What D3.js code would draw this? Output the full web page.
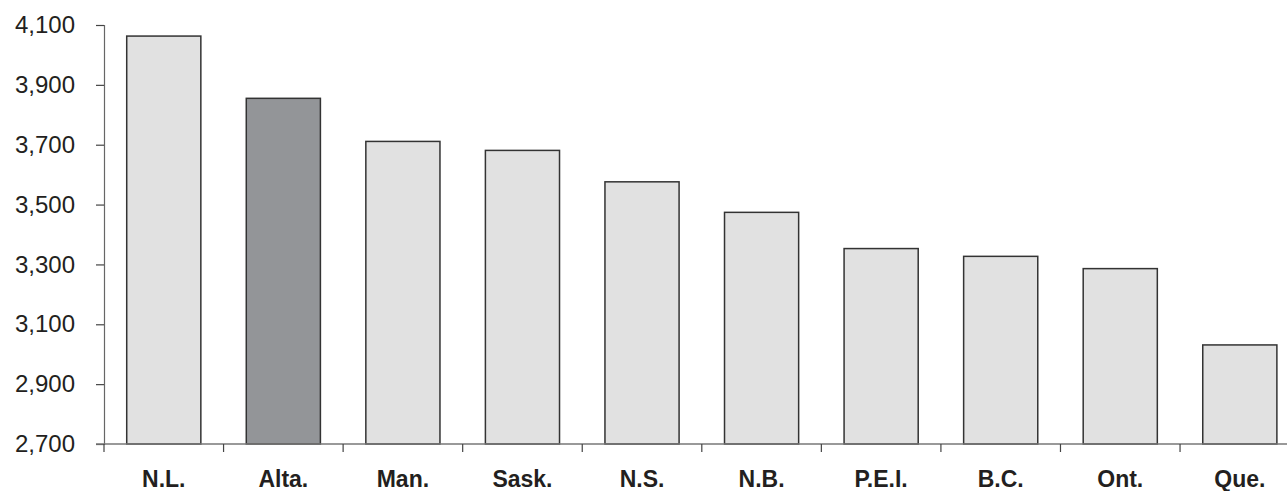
<!DOCTYPE html>
<html><head><meta charset="utf-8">
<script src="https://cdn.jsdelivr.net/npm/d3@7"></script>
<style>body{margin:0;background:#fff}svg{display:block}</style>
</head><body>
<svg id="c" width="1287" height="491"></svg>
<script>
const categories = ["N.L.","Alta.","Man.","Sask.","N.S.","N.B.","P.E.I.","B.C.","Ont.","Que."];
const values = [4063,3855,3711,3681,3576,3474,3353,3327,3286,3031];
const highlight = ["Alta."];
const yTicks = [2700,2900,3100,3300,3500,3700,3900,4100];

(function(){
const svg = d3.select("#c");
const mLeft = 104, mRight = 1299.6, mTop = 25, mBottom = 444;
const x = d3.scaleBand().domain(categories).range([mLeft,mRight]).paddingInner(0.38).paddingOuter(0.19);
const y = d3.scaleLinear().domain([2700,4100]).range([mBottom,mTop]);

svg.selectAll("rect.bar").data(categories).join("rect")
  .attr("class","bar")
  .attr("x",d=>x(d)).attr("width",x.bandwidth())
  .attr("y",(d,i)=>y(values[i])).attr("height",(d,i)=>mBottom-y(values[i]))
  .attr("fill",d=>highlight.includes(d)?"#939598":"#e1e1e1")
  .attr("stroke","#333").attr("stroke-width",1.5);

const yAxis = svg.append("g").attr("transform",`translate(${mLeft},0)`)
  .call(d3.axisLeft(y).tickValues(yTicks).tickSize(8).tickPadding(21).tickFormat(d3.format(",")));
yAxis.select(".domain").attr("stroke","#666").attr("stroke-width",1.2);
yAxis.selectAll(".tick line").attr("stroke","#444").attr("stroke-width",1.2);
yAxis.selectAll("text").attr("font-family","Liberation Sans, Arial, sans-serif").attr("font-size",24).attr("fill","#231f20");

const xAxisG = svg.append("g");
xAxisG.append("line").attr("x1",mLeft-8).attr("x2",mRight).attr("y1",mBottom).attr("y2",mBottom)
  .attr("stroke","#777").attr("stroke-width",1.5);
const step = x.step();
xAxisG.selectAll("line.tk").data(categories).join("line").attr("class","tk")
  .attr("x1",(d,i)=>mLeft+i*step).attr("x2",(d,i)=>mLeft+i*step)
  .attr("y1",mBottom).attr("y2",mBottom+8).attr("stroke","#444").attr("stroke-width",1.2);
xAxisG.selectAll("text").data(categories).join("text")
  .attr("x",d=>x(d)+x.bandwidth()/2).attr("y",487)
  .attr("text-anchor","middle")
  .attr("font-family","Liberation Sans, Arial, sans-serif").attr("font-weight","bold").attr("font-size",23)
  .attr("fill","#231f20").text(d=>d);
})();
</script>
</body></html>
